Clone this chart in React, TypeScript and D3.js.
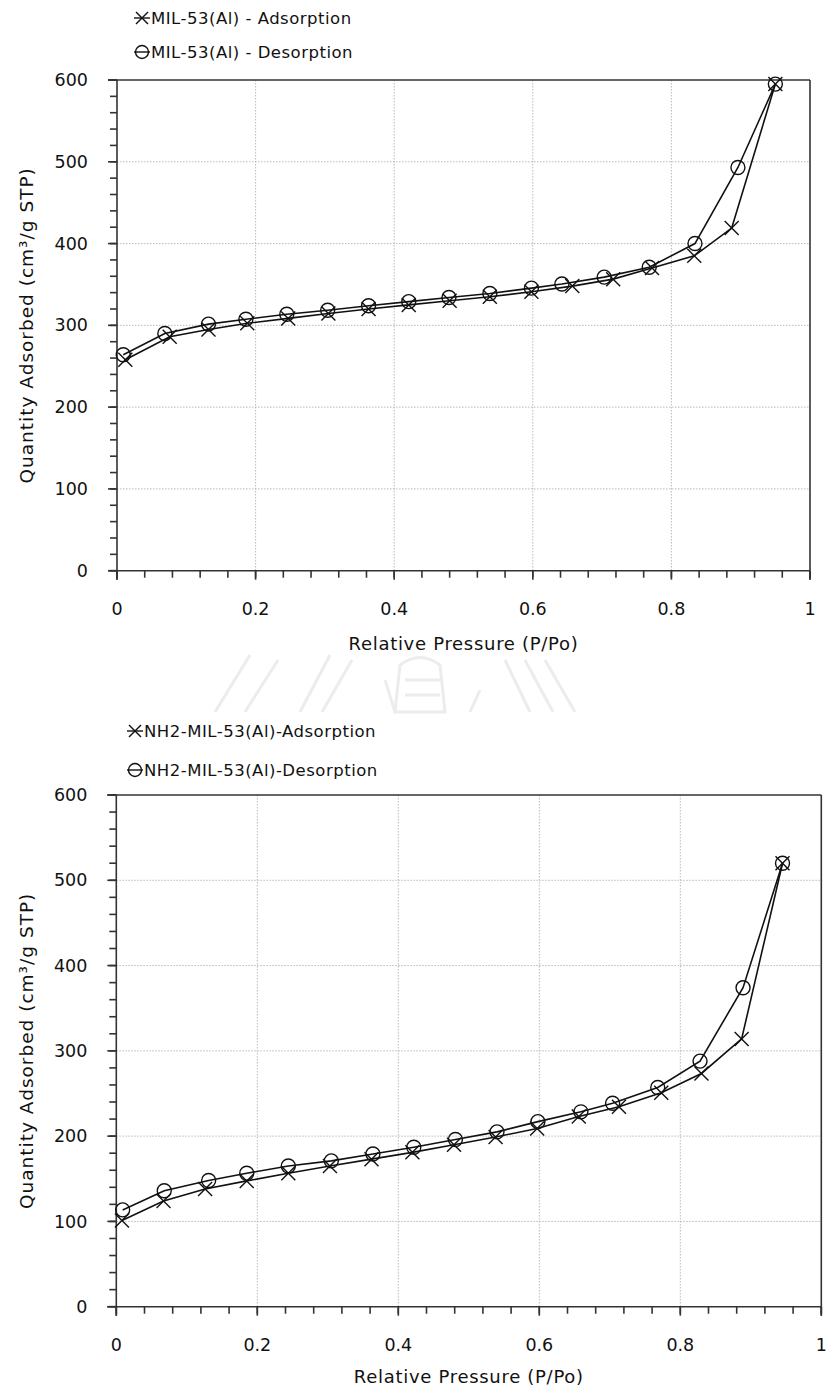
import React from "react";
import * as d3 from "d3";

// ---------- Data: MIL-53(Al) ----------
const mil53AdsX = [0.012, 0.076, 0.132, 0.188, 0.247, 0.305, 0.363, 0.421, 0.48, 0.538, 0.598, 0.657, 0.716, 0.772, 0.833, 0.887, 0.95];
const mil53AdsY = [258, 286, 295, 302.5, 308.5, 314.5, 320, 325, 330, 335, 341, 348, 356.5, 370, 385, 419, 595];
const mil53DesX = [0.95, 0.896, 0.834, 0.768, 0.703, 0.642, 0.598, 0.538, 0.479, 0.421, 0.363, 0.304, 0.245, 0.186, 0.132, 0.069, 0.009];
const mil53DesY = [595, 493, 400, 371, 359, 350.5, 345.5, 339, 334, 329, 324, 318.5, 313.5, 307.5, 301.5, 290, 264];

// ---------- Data: NH2-MIL-53(Al) ----------
const nh2AdsX = [0.008, 0.067, 0.126, 0.185, 0.244, 0.303, 0.362, 0.42, 0.479, 0.538, 0.597, 0.656, 0.713, 0.773, 0.83, 0.887, 0.945];
const nh2AdsY = [101, 124, 138, 147.5, 156.5, 165, 173, 181, 190, 199, 209, 223, 234.5, 251, 273.5, 314, 520];
const nh2DesX = [0.945, 0.889, 0.828, 0.768, 0.704, 0.659, 0.598, 0.54, 0.481, 0.422, 0.364, 0.305, 0.244, 0.185, 0.131, 0.068, 0.009];
const nh2DesY = [520, 374, 288, 257, 238.5, 228.5, 217, 205, 196, 187, 179, 171, 165, 156.5, 148, 136, 113.5];

const xTickValues = [0, 0.2, 0.4, 0.6, 0.8, 1];
const xTickLabels = ["0", "0.2", "0.4", "0.6", "0.8", "1"];
const yTickValues = [0, 100, 200, 300, 400, 500, 600];
const yTickLabels = ["0", "100", "200", "300", "400", "500", "600"];

const legendTop = ["MIL-53(Al) - Adsorption", "MIL-53(Al) - Desorption"];
const legendBottom = ["NH2-MIL-53(Al)-Adsorption", "NH2-MIL-53(Al)-Desorption"];

const xTitle = "Relative Pressure (P/Po)";
const yTitle = "Quantity Adsorbed (cm³/g STP)";

const FONT = "'DejaVu Sans', Verdana, sans-serif";

type Geo = {
  left: number;
  right: number;
  top: number;
  bottom: number;
  legendX: number;
  legendY: [number, number];
  xTitleY: number;
  yTitleX: number;
};

function Cross({ x, y, s = 7 }: { x: number; y: number; s?: number }) {
  return (
    <g stroke="#111" strokeWidth={1.4}>
      <line x1={x - s} y1={y - s} x2={x + s} y2={y + s} />
      <line x1={x - s} y1={y + s} x2={x + s} y2={y - s} />
    </g>
  );
}

function Circ({ x, y, r = 7 }: { x: number; y: number; r?: number }) {
  return <circle cx={x} cy={y} r={r} fill="none" stroke="#111" strokeWidth={1.4} />;
}

function Chart({
  geo,
  adsX,
  adsY,
  desX,
  desY,
  legend,
}: {
  geo: Geo;
  adsX: number[];
  adsY: number[];
  desX: number[];
  desY: number[];
  legend: string[];
}) {
  const x = d3.scaleLinear().domain([0, 1]).range([geo.left, geo.right]);
  const y = d3.scaleLinear().domain([0, 600]).range([geo.bottom, geo.top]);
  const line = d3
    .line<[number, number]>()
    .x((d) => x(d[0]))
    .y((d) => y(d[1]));
  const ads: [number, number][] = adsX.map((v, i) => [v, adsY[i]]);
  const des: [number, number][] = desX.map((v, i) => [v, desY[i]]);
  const xMinor = d3.range(0, 1.0001, 0.04);
  const yMinor = d3.range(0, 600.1, 20);
  const gridX = xTickValues.filter((v) => v > 0 && v < 1);
  const gridY = yTickValues.filter((v) => v > 0 && v < 600);
  const midY = (geo.top + geo.bottom) / 2;
  return (
    <g fontFamily={FONT} fill="#111">
      {/* grid */}
      <g stroke="#a8a8a8" strokeWidth={0.8} strokeDasharray="1.5,1.5">
        {gridX.map((v) => (
          <line key={"gx" + v} x1={x(v)} x2={x(v)} y1={geo.top} y2={geo.bottom} />
        ))}
        {gridY.map((v) => (
          <line key={"gy" + v} x1={geo.left} x2={geo.right} y1={y(v)} y2={y(v)} />
        ))}
      </g>
      {/* frame */}
      <g stroke="#333" strokeWidth={1.6} fill="none">
        <line x1={geo.left - 9} x2={geo.right} y1={geo.top} y2={geo.top} />
        <line x1={geo.right} x2={geo.right} y1={geo.top} y2={geo.bottom + 9} />
        <line x1={geo.left - 9} x2={geo.right} y1={geo.bottom} y2={geo.bottom} />
        <line x1={geo.left} x2={geo.left} y1={geo.top} y2={geo.bottom + 9} />
        {xMinor.map((v) => (
          <line key={"xm" + v} x1={x(v)} x2={x(v)} y1={geo.bottom} y2={geo.bottom + 7} />
        ))}
        {xTickValues.map((v) => (
          <line key={"xM" + v} x1={x(v)} x2={x(v)} y1={geo.bottom} y2={geo.bottom + 9} />
        ))}
        {yMinor.map((v) => (
          <line key={"ym" + v} x1={geo.left - 7} x2={geo.left} y1={y(v)} y2={y(v)} />
        ))}
        {yTickValues.map((v) => (
          <line key={"yM" + v} x1={geo.left - 9} x2={geo.left} y1={y(v)} y2={y(v)} />
        ))}
      </g>
      {/* tick labels */}
      <g fontSize={17.5}>
        {xTickValues.map((v, i) => (
          <text key={"xl" + v} x={x(v)} y={geo.bottom + 44} textAnchor="middle">
            {xTickLabels[i]}
          </text>
        ))}
        {yTickValues.map((v, i) => (
          <text key={"yl" + v} x={geo.left - 29} y={y(v)} dy="0.35em" textAnchor="end">
            {yTickLabels[i]}
          </text>
        ))}
      </g>
      {/* titles */}
      <text
        x={(geo.left + geo.right) / 2}
        y={geo.xTitleY}
        textAnchor="middle"
        fontSize={18}
        letterSpacing={0.7}
      >
        {xTitle}
      </text>
      <text
        transform={`translate(${geo.yTitleX},${midY}) rotate(-90)`}
        textAnchor="middle"
        dy="0.35em"
        fontSize={18.5}
        letterSpacing={1}
      >
        {yTitle}
      </text>
      {/* series */}
      <path d={line(ads) || ""} fill="none" stroke="#111" strokeWidth={1.6} />
      <path d={line(des) || ""} fill="none" stroke="#111" strokeWidth={1.6} />
      {ads.map((d, i) => (
        <Cross key={"a" + i} x={x(d[0])} y={y(d[1])} />
      ))}
      {des.map((d, i) => (
        <Circ key={"d" + i} x={x(d[0])} y={y(d[1])} />
      ))}
      {/* legend */}
      <g fontSize={16.5} letterSpacing={0.5}>
        <line x1={geo.legendX - 8} x2={geo.legendX + 8} y1={geo.legendY[0]} y2={geo.legendY[0]} stroke="#111" strokeWidth={1.4} />
        <Cross x={geo.legendX} y={geo.legendY[0]} s={6} />
        <text x={geo.legendX + 9} y={geo.legendY[0]} dy="0.35em">
          {legend[0]}
        </text>
        <line x1={geo.legendX - 8} x2={geo.legendX + 8} y1={geo.legendY[1]} y2={geo.legendY[1]} stroke="#111" strokeWidth={1.4} />
        <Circ x={geo.legendX} y={geo.legendY[1]} r={6.5} />
        <text x={geo.legendX + 9} y={geo.legendY[1]} dy="0.35em">
          {legend[1]}
        </text>
      </g>
    </g>
  );
}

function Watermark() {
  const strokes: [number, number, number, number][] = [
    [215, 712, 250, 655],
    [245, 712, 278, 660],
    [300, 712, 330, 655],
    [322, 712, 352, 660],
    [395, 712, 385, 680],
    [505, 660, 530, 712],
    [525, 660, 553, 712],
    [545, 660, 575, 712],
    [480, 690, 470, 712],
  ];
  return (
    <g stroke="#ececec" strokeWidth={3} fill="none">
      {strokes.map((s, i) => (
        <line key={i} x1={s[0]} y1={s[1]} x2={s[2]} y2={s[3]} />
      ))}
      <path d="M400,665 Q420,650 440,665 L445,712 L395,712 Z" />
      <path d="M405,680 L440,680 M405,695 L440,695" />
    </g>
  );
}

export default function App() {
  const geoTop: Geo = {
    left: 117,
    right: 810,
    top: 80,
    bottom: 570.7,
    legendX: 142,
    legendY: [18, 52],
    xTitleY: 650,
    yTitleX: 27,
  };
  const geoBottom: Geo = {
    left: 116.3,
    right: 821.3,
    top: 795,
    bottom: 1306.7,
    legendX: 135,
    legendY: [731, 770],
    xTitleY: 1383,
    yTitleX: 27,
  };
  return (
    <svg
      width={829}
      height={1387}
      viewBox="0 0 829 1387"
      style={{ position: "absolute", left: 0, top: 0, background: "#fff" }}
    >
      <rect width={829} height={1387} fill="#fff" />
      <Watermark />
      <Chart geo={geoTop} adsX={mil53AdsX} adsY={mil53AdsY} desX={mil53DesX} desY={mil53DesY} legend={legendTop} />
      <Chart geo={geoBottom} adsX={nh2AdsX} adsY={nh2AdsY} desX={nh2DesX} desY={nh2DesY} legend={legendBottom} />
    </svg>
  );
}
